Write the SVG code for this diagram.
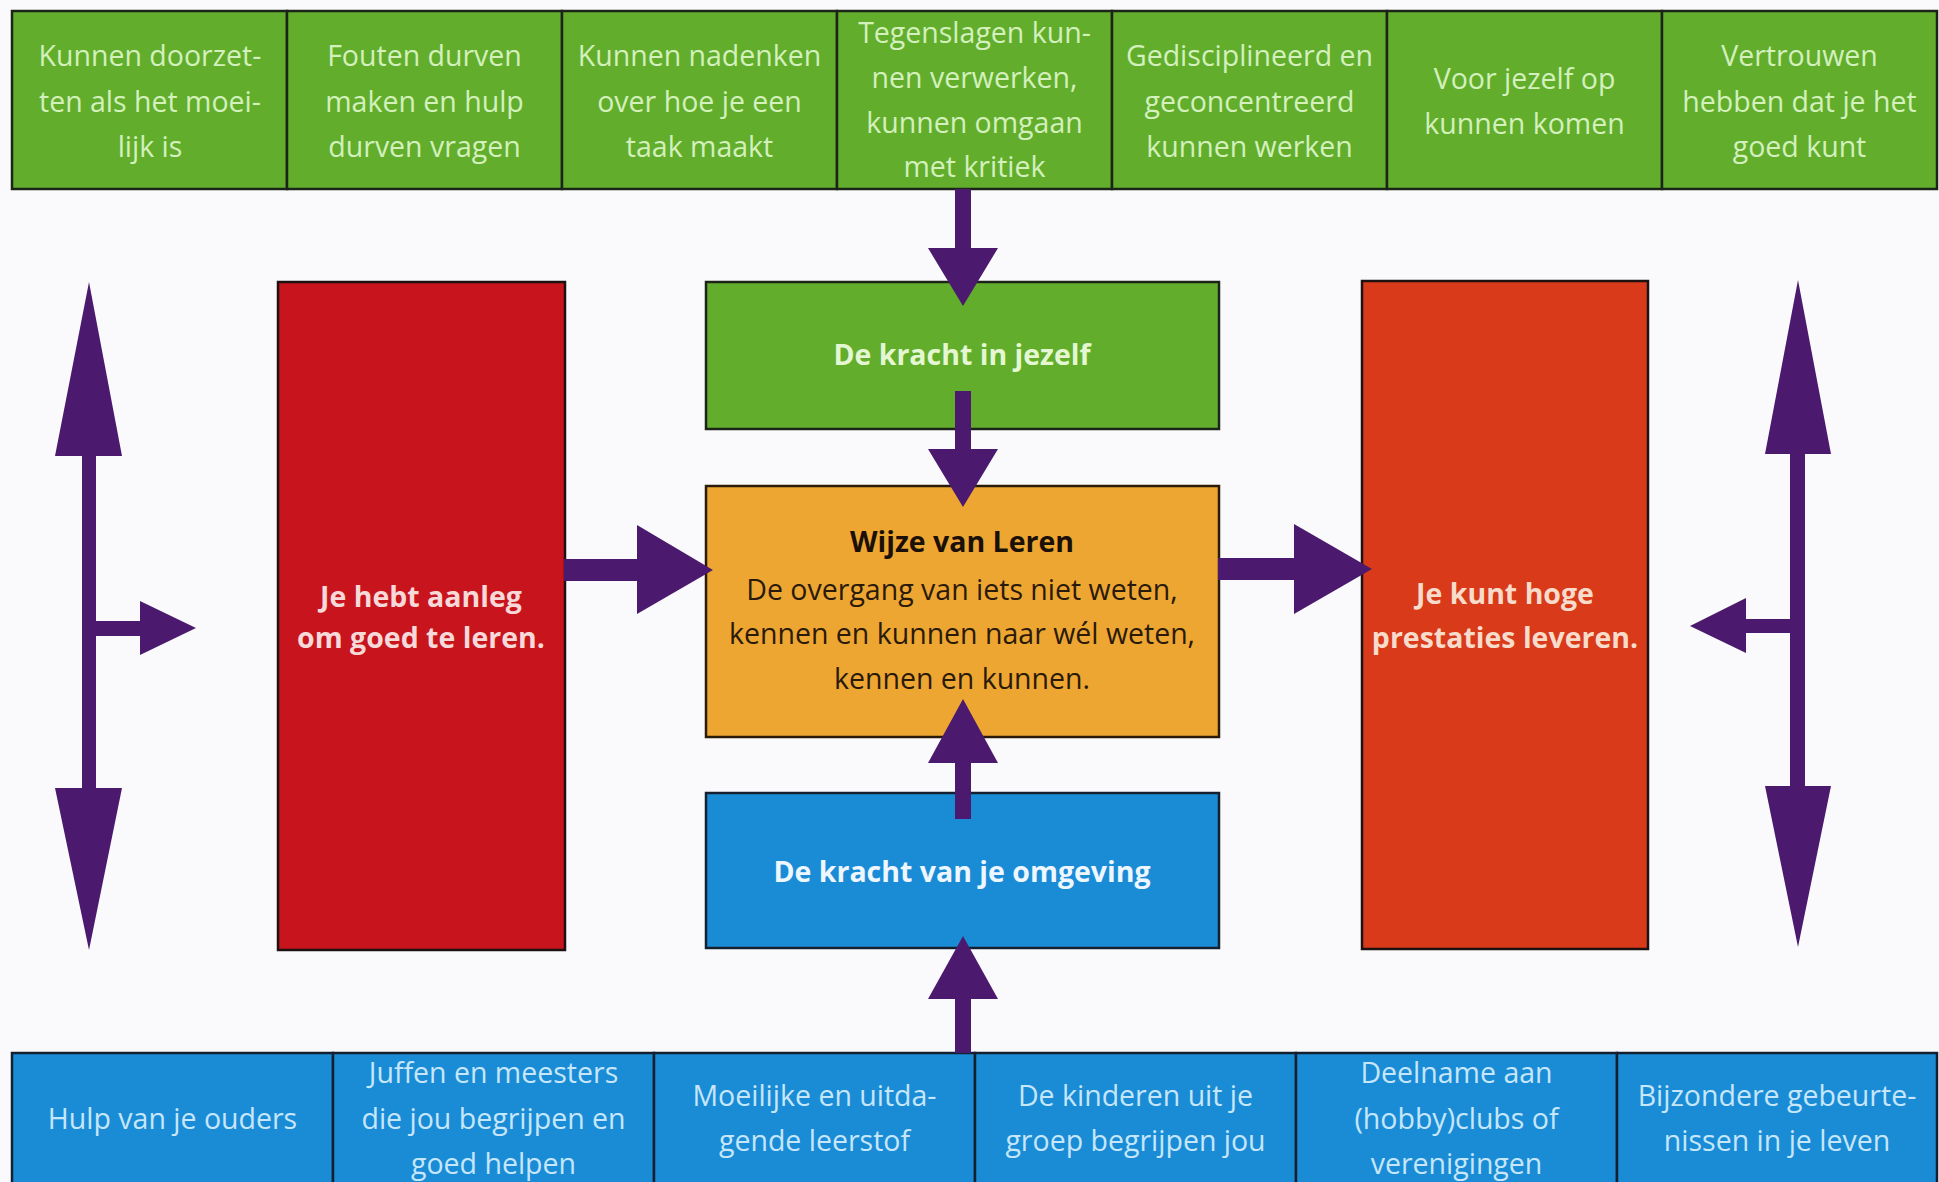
<svg xmlns="http://www.w3.org/2000/svg" width="1939" height="1182" viewBox="0 0 1939 1182">
<style>
.cellG{fill:#62ae2c;stroke:#1c241a;stroke-width:2.5}
.cellB{fill:#1a8cd6;stroke:#142030;stroke-width:2.5}
.tG{font-family:"Open Sans","Noto Sans",sans-serif;font-size:28.5px;fill:#d3f0bd;text-anchor:middle}
.tB{font-family:"Open Sans","Noto Sans",sans-serif;font-size:28.5px;fill:#c6e6fa;text-anchor:middle}
.bold{font-family:"Open Sans","Noto Sans",sans-serif;font-size:28.5px;font-weight:bold;text-anchor:middle}
.body{font-family:"Open Sans","Noto Sans",sans-serif;font-size:28.5px;fill:#2a1a0a;text-anchor:middle}
.arrow{fill:#4b1a6e}
</style>
<rect width="1939" height="1182" fill="#fafafc"/>

<g id="top-row">
  <g id="t1"><rect class="cellG" x="12" y="11" width="275" height="178"/>
    <text class="tG" x="150" y="66">Kunnen doorzet-</text><text class="tG" x="150" y="112">ten als het moei-</text><text class="tG" x="150" y="157">lijk is</text></g>
  <g id="t2"><rect class="cellG" x="287" y="11" width="275" height="178"/>
    <text class="tG" x="424.5" y="66">Fouten durven</text><text class="tG" x="424.5" y="112">maken en hulp</text><text class="tG" x="424.5" y="157">durven vragen</text></g>
  <g id="t3"><rect class="cellG" x="562" y="11" width="275" height="178"/>
    <text class="tG" x="699.5" y="66">Kunnen nadenken</text><text class="tG" x="699.5" y="112">over hoe je een</text><text class="tG" x="699.5" y="157">taak maakt</text></g>
  <g id="t4"><rect class="cellG" x="837" y="11" width="275" height="178"/>
    <text class="tG" x="974.5" y="43">Tegenslagen kun-</text><text class="tG" x="974.5" y="88">nen verwerken,</text><text class="tG" x="974.5" y="133">kunnen omgaan</text><text class="tG" x="974.5" y="177">met kritiek</text></g>
  <g id="t5"><rect class="cellG" x="1112" y="11" width="275" height="178"/>
    <text class="tG" x="1249.5" y="66">Gedisciplineerd en</text><text class="tG" x="1249.5" y="112">geconcentreerd</text><text class="tG" x="1249.5" y="157">kunnen werken</text></g>
  <g id="t6"><rect class="cellG" x="1387" y="11" width="275" height="178"/>
    <text class="tG" x="1524.5" y="89">Voor jezelf op</text><text class="tG" x="1524.5" y="134">kunnen komen</text></g>
  <g id="t7"><rect class="cellG" x="1662" y="11" width="275" height="178"/>
    <text class="tG" x="1799.5" y="66">Vertrouwen</text><text class="tG" x="1799.5" y="112">hebben dat je het</text><text class="tG" x="1799.5" y="157">goed kunt</text></g>
</g>

<g id="bottom-row">
  <g id="b1"><rect class="cellB" x="12" y="1053" width="321" height="140"/>
    <text class="tB" x="172.5" y="1129">Hulp van je ouders</text></g>
  <g id="b2"><rect class="cellB" x="333" y="1053" width="321" height="140"/>
    <text class="tB" x="493.5" y="1083">Juffen en meesters</text><text class="tB" x="493.5" y="1129">die jou begrijpen en</text><text class="tB" x="493.5" y="1174">goed helpen</text></g>
  <g id="b3"><rect class="cellB" x="654" y="1053" width="321" height="140"/>
    <text class="tB" x="814.5" y="1106">Moeilijke en uitda-</text><text class="tB" x="814.5" y="1151">gende leerstof</text></g>
  <g id="b4"><rect class="cellB" x="975" y="1053" width="321" height="140"/>
    <text class="tB" x="1135.5" y="1106">De kinderen uit je</text><text class="tB" x="1135.5" y="1151">groep begrijpen jou</text></g>
  <g id="b5"><rect class="cellB" x="1296" y="1053" width="321" height="140"/>
    <text class="tB" x="1456.5" y="1083">Deelname aan</text><text class="tB" x="1456.5" y="1129">(hobby)clubs of</text><text class="tB" x="1456.5" y="1174">verenigingen</text></g>
  <g id="b6"><rect class="cellB" x="1617" y="1053" width="320" height="140"/>
    <text class="tB" x="1777" y="1106">Bijzondere gebeurte-</text><text class="tB" x="1777" y="1151">nissen in je leven</text></g>
</g>

<g id="aanleg"><rect x="278" y="282" width="287" height="668" fill="#c8141c" stroke="#1c1212" stroke-width="2.5"/>
  <text class="bold" x="421" y="607" fill="#f7d9d9">Je hebt aanleg</text><text class="bold" x="421" y="648" fill="#f7d9d9">om goed te leren.</text></g>

<g id="prestaties"><rect x="1362" y="281" width="286" height="668" fill="#d93a1a" stroke="#1c1212" stroke-width="2.5"/>
  <text class="bold" x="1505" y="604" fill="#f8dccb">Je kunt hoge</text><text class="bold" x="1505" y="648" fill="#f8dccb">prestaties leveren.</text></g>

<g id="kracht-jezelf"><rect x="706" y="282" width="513" height="147" fill="#62ae2c" stroke="#1c241a" stroke-width="2.5"/>
  <text class="bold" x="962" y="365" fill="#e4f7d2">De kracht in jezelf</text></g>

<g id="wijze"><rect x="706" y="486" width="513" height="251" fill="#eea632" stroke="#2a1a0a" stroke-width="2.5"/>
  <text class="bold" x="962" y="552" fill="#1a1008">Wijze van Leren</text>
  <text class="body" x="962" y="600">De overgang van iets niet weten,</text>
  <text class="body" x="962" y="644">kennen en kunnen naar wél weten,</text>
  <text class="body" x="962" y="689">kennen en kunnen.</text></g>

<g id="kracht-omgeving"><rect x="706" y="793" width="513" height="155" fill="#1a8cd6" stroke="#142030" stroke-width="2.5"/>
  <text class="bold" x="962" y="882" fill="#eef6ff">De kracht van je omgeving</text></g>

<g id="connectors">
  <polygon class="arrow" points="955,189 971,189 971,248 998,248 963,306 928,248 955,248"/>
  <polygon class="arrow" points="955,391 971,391 971,449 998,449 963,507 928,449 955,449"/>
  <polygon class="arrow" points="955,819 971,819 971,763 998,763 963,699 928,763 955,763"/>
  <polygon class="arrow" points="955,1053 971,1053 971,999 998,999 963,936 928,999 955,999"/>
  <polygon class="arrow" points="564,559 637,559 637,525 713,570 637,614 637,581 564,581"/>
  <polygon class="arrow" points="1218,558 1294,558 1294,524 1372,569 1294,614 1294,580 1218,580"/>
  <polygon class="arrow" points="82,456 55,456 89,282 122,456 96,456 96,621 140,621 140,601 196,628 140,655 140,636 96,636 96,788 122,788 89,950 55,788 82,788"/>
  <polygon class="arrow" points="1805,454 1831,454 1798,280 1765,454 1790,454 1790,619 1746,619 1746,598 1690,626 1746,653 1746,633 1790,633 1790,786 1765,786 1798,947 1831,786 1805,786"/>
</g>
</svg>
